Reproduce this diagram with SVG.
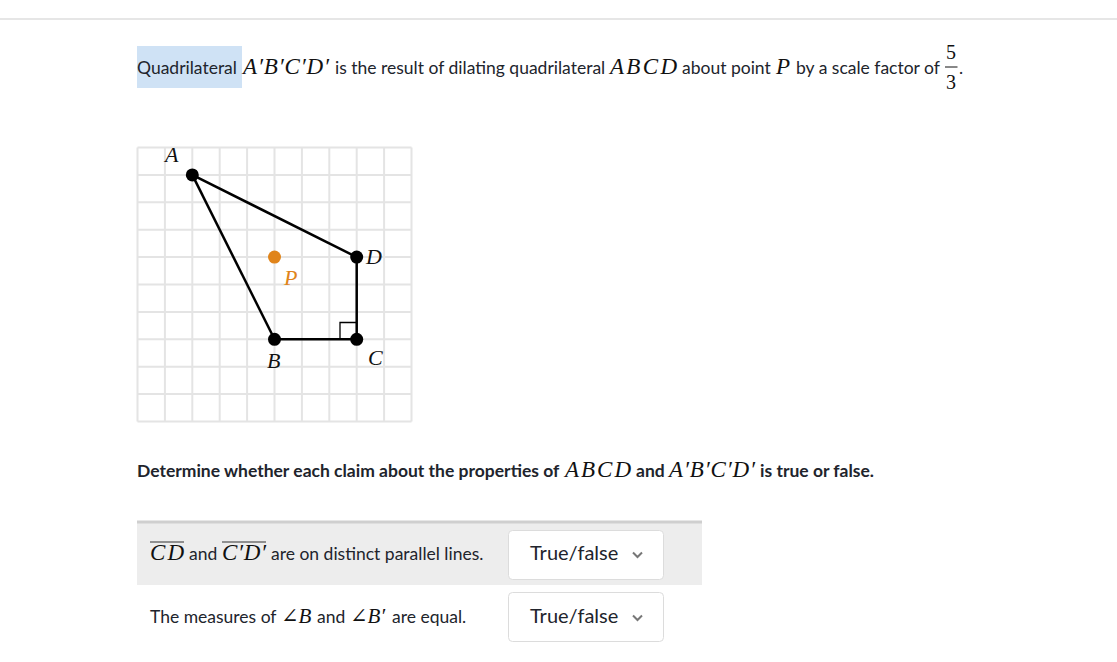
<svg xmlns="http://www.w3.org/2000/svg" width="1117" height="662" viewBox="0 0 1117 662">
<style>
.t{font-family:Lato,"Open Sans","Liberation Sans",sans-serif;font-size:17.5px;fill:#21242c}
.b{font-weight:bold}
.m{font-family:"Liberation Serif","DejaVu Serif",serif;font-style:italic;font-size:23px;fill:#111}
.ms{font-size:21px}
.mn{font-family:"Liberation Serif","DejaVu Serif",serif;font-size:20px;fill:#111}
.g{stroke:#e4e4e4;stroke-width:2;fill:none}
.e{stroke:#000;stroke-width:2.5;fill:none}
.pt{fill:#000}
.lbl{font-family:"Liberation Serif","DejaVu Serif",serif;font-style:italic;font-size:22px;fill:#111}
.dd{fill:#fff;stroke:#dcdcdc;stroke-width:1}
.ddt{font-family:Lato,"Open Sans","Liberation Sans",sans-serif;font-size:20px;fill:#21242c}
.chev{stroke:#777;stroke-width:2;fill:none}
.ol{stroke:#333;stroke-width:1.2}
</style>
<rect width="1117" height="662" fill="#fff"/>
<line x1="0" y1="19" x2="1117" y2="19" stroke="#dedede" stroke-width="1.5"/>

<g id="title">
<rect x="137" y="46" width="105" height="42" fill="#cfe2f5"/>
<text class="t" x="137" y="74">Quadrilateral</text>
<text class="m" x="243" y="74" textLength="86" lengthAdjust="spacing">A′B′C′D′</text>
<text class="t" x="335" y="74">is the result of dilating quadrilateral</text>
<text class="m" x="610" y="74" textLength="67" lengthAdjust="spacing">ABCD</text>
<text class="t" x="682" y="74">about point</text>
<text class="m" x="776" y="74">P</text>
<text class="t" x="796" y="74">by a scale factor of</text>
<text class="mn" x="946" y="59">5</text>
<line x1="945" y1="67" x2="957.5" y2="67" stroke="#111" stroke-width="1"/>
<text class="mn" x="946" y="89">3</text>
<text class="t" x="959" y="74">.</text>
</g>

<g id="grid">
<path class="g" d="M137.5 147.5V421.5M164.9 147.5V421.5M192.3 147.5V421.5M219.7 147.5V421.5M247.1 147.5V421.5M274.5 147.5V421.5M301.9 147.5V421.5M329.3 147.5V421.5M356.7 147.5V421.5M384.1 147.5V421.5M411.5 147.5V421.5M137.5 147.5H411.5M137.5 174.9H411.5M137.5 202.3H411.5M137.5 229.7H411.5M137.5 257.1H411.5M137.5 284.5H411.5M137.5 311.9H411.5M137.5 339.3H411.5M137.5 366.7H411.5M137.5 394.1H411.5M137.5 421.5H411.5"/>
</g>

<g id="connectors">
<line class="e" x1="192.3" y1="174.9" x2="356.7" y2="257.1"/>
<line class="e" x1="356.7" y1="257.1" x2="356.7" y2="339.3"/>
<line class="e" x1="356.7" y1="339.3" x2="274.5" y2="339.3"/>
<line class="e" x1="274.5" y1="339.3" x2="192.3" y2="174.9"/>
<path d="M340 339.3V322.5H356.7" stroke="#000" stroke-width="1.3" fill="none"/>
</g>

<g id="A"><circle class="pt" cx="192.3" cy="174.9" r="6.5"/><text class="lbl" x="165" y="162">A</text></g>
<g id="B"><circle class="pt" cx="274.5" cy="339.3" r="6.5"/><text class="lbl" x="267" y="368">B</text></g>
<g id="C"><circle class="pt" cx="356.7" cy="339.3" r="6.5"/><text class="lbl" x="368" y="365">C</text></g>
<g id="D"><circle class="pt" cx="356.7" cy="257.1" r="6.5"/><text class="lbl" x="366" y="264">D</text></g>
<g id="P"><circle cx="274.5" cy="257.1" r="6.5" fill="#e0841a"/><text class="lbl" x="284" y="285" style="fill:#e0841a">P</text></g>

<g id="prompt">
<text class="t b" x="137" y="477">Determine whether each claim about the properties of</text>
<text class="m" x="565" y="477" textLength="66" lengthAdjust="spacing">ABCD</text>
<text class="t b" x="636" y="477">and</text>
<text class="m" x="669" y="477" textLength="86" lengthAdjust="spacing">A′B′C′D′</text>
<text class="t b" x="760" y="477">is true or false.</text>
</g>

<g id="table">
<rect x="137" y="521" width="565" height="64" fill="#ededed"/>
<line x1="137" y1="522" x2="702" y2="522" stroke="#cfcfcf" stroke-width="3"/>
</g>

<g id="row1">
<line class="ol" x1="150" y1="542" x2="184" y2="542"/>
<text class="m" x="150" y="560" textLength="34" lengthAdjust="spacing">CD</text>
<text class="t" x="189" y="560">and</text>
<line class="ol" x1="222" y1="542" x2="266" y2="542"/>
<text class="m" x="222" y="560" textLength="44" lengthAdjust="spacing">C′D′</text>
<text class="t" x="271" y="560">are on distinct parallel lines.</text>
<rect class="dd" x="508.5" y="530.5" width="155" height="49" rx="4"/>
<text class="ddt" x="530" y="560">True/false</text>
<path class="chev" d="M633 552.5L637.5 557L642 552.5"/>
</g>

<g id="row2">
<text class="t" x="150" y="623">The measures of</text>
<text class="m ms" x="281" y="623">∠B</text>
<text class="t" x="317" y="623">and</text>
<text class="m ms" x="350" y="623">∠B′</text>
<text class="t" x="392" y="623">are equal.</text>
<rect class="dd" x="508.5" y="592.5" width="155" height="49" rx="4"/>
<text class="ddt" x="530" y="623">True/false</text>
<path class="chev" d="M633 615.5L637.5 620L642 615.5"/>
</g>
</svg>
